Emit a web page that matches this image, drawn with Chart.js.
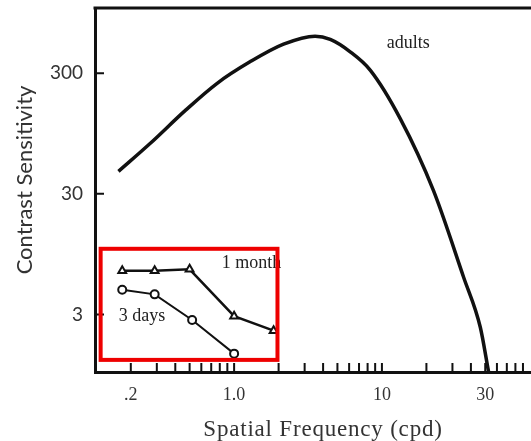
<!DOCTYPE html>
<html>
<head>
<meta charset="utf-8">
<script src="https://cdn.jsdelivr.net/npm/chart.js@4/dist/chart.umd.min.js"></script>
<style>
  body { margin: 0; background: #fff; }
  #wrap { width: 531px; height: 441px; }
</style>
</head>
<body>
<div id="wrap"><canvas id="csf" width="531" height="441"></canvas></div>
<script>
// values (log-log)
const adultFreq = [0.165, 0.27, 0.47, 0.764, 1.28, 2.16, 3.53, 4.47, 6.1, 8.33, 13.3, 22.3, 35.7, 46.3, 52.7];
const adultCS   = [46, 78.3, 148, 246, 372, 522, 608, 571, 451, 318, 126, 32, 6.1, 2.35, 1.0];

const monthFreq = [0.175, 0.29, 0.5, 1.0, 1.85];
const monthCS   = [6.9, 6.9, 7.1, 2.9, 2.2];

const daysFreq  = [0.175, 0.29, 0.52, 1.0];
const daysCS    = [4.8, 4.4, 2.7, 1.42];

const xTicks = [0.2, 0.3, 0.4, 0.5, 0.6, 0.7, 0.8, 0.9, 1, 2, 3, 4, 5, 6, 7, 8, 9, 10, 20, 30, 40, 50, 60, 70, 80, 90];
const xTickLabels = { 0.2: '.2', 1: '1.0', 10: '10', 50: '30' };  // the figure prints "30" under this tick
const yTicks = [3, 30, 300];

const xTitle = 'Spatial Frequency (cpd)';
const yTitle = 'Contrast Sensitivity';

// in-plot notes: [text, freq, cs]
const notes = [['adults', 10.8, 532], ['1 month', 0.826, 7.9], ['3 days', 0.166, 2.88]];
// red highlight box, in data units: x from..to, cs from..to
const boxFreq = [0.125, 1.965];
const boxCS = [1.26, 10.5];

const toPts = (xs, ys) => xs.map((v, i) => ({ x: v, y: ys[i] }));

const extras = {
    id: 'extras',
    afterDatasetsDraw(chart) {
        const { ctx, chartArea: a, scales: { x, y } } = chart;
        ctx.save();
        ctx.strokeStyle = '#111';
        ctx.lineWidth = 3;
        ctx.beginPath();
        ctx.moveTo(a.left - 1.5, a.top);
        ctx.lineTo(a.right, a.top);
        ctx.stroke();

        // tick marks point inward
        ctx.lineWidth = 2;
        ctx.beginPath();
        x.ticks.forEach(t => {
            const px = x.getPixelForValue(t.value);
            ctx.moveTo(px, a.bottom);
            ctx.lineTo(px, a.bottom - 9);
        });
        y.ticks.forEach(t => {
            const py = y.getPixelForValue(t.value);
            ctx.moveTo(a.left, py);
            ctx.lineTo(a.left + 9, py);
        });
        ctx.stroke();

        ctx.fillStyle = '#222';
        ctx.font = '18px "Liberation Serif"';
        ctx.textBaseline = 'middle';
        notes.forEach(([txt, fx, fy]) => {
            ctx.fillText(txt, x.getPixelForValue(fx), y.getPixelForValue(fy));
        });

        const x0 = x.getPixelForValue(boxFreq[0]), x1 = x.getPixelForValue(boxFreq[1]);
        const y0 = y.getPixelForValue(boxCS[1]), y1 = y.getPixelForValue(boxCS[0]);
        ctx.strokeStyle = '#ee0000';
        ctx.lineWidth = 4;
        ctx.strokeRect(x0, y0, x1 - x0, y1 - y0);

        // axis titles
        ctx.fillStyle = '#333';
        ctx.textAlign = 'center';
        ctx.font = '23px "Liberation Serif"';
        ctx.letterSpacing = '0.8px';
        ctx.fillText(xTitle, 323, 430);
        ctx.letterSpacing = '0px';
        ctx.translate(25, 180);
        ctx.rotate(-Math.PI / 2);
        ctx.font = '22px Lato';
        ctx.fillText(yTitle, 0, 0);
        ctx.restore();
    }
};

new Chart(document.getElementById('csf'), {
    type: 'scatter',
    data: {
        datasets: [
            {
                label: 'adults',
                data: toPts(adultFreq, adultCS),
                showLine: true,
                borderColor: '#111',
                borderWidth: 3.5,
                pointRadius: 0,
                cubicInterpolationMode: 'monotone',
            },
            {
                label: '1 month',
                data: toPts(monthFreq, monthCS),
                showLine: true,
                borderColor: '#111',
                borderWidth: 2.5,
                pointStyle: 'triangle',
                pointRadius: 4.5,
                pointBorderWidth: 2,
                pointBackgroundColor: '#fff',
                pointBorderColor: '#111',
            },
            {
                label: '3 days',
                data: toPts(daysFreq, daysCS),
                showLine: true,
                borderColor: '#111',
                borderWidth: 2,
                pointStyle: 'circle',
                pointRadius: 4,
                pointBorderWidth: 2,
                pointBackgroundColor: '#fff',
                pointBorderColor: '#111',
            }
        ]
    },
    options: {
        responsive: false,
        animation: false,
        layout: { autoPadding: false, padding: { top: 8, right: 0, left: 0, bottom: 0 } },
        plugins: { legend: { display: false }, tooltip: { enabled: false } },
        scales: {
            x: {
                type: 'logarithmic',
                min: 0.1145,
                max: 102,
                afterBuildTicks: s => { s.ticks = xTicks.map(v => ({ value: v })); },
                afterFit: s => { s.height = 69; s.paddingLeft = 0; s.paddingRight = 0; },
                grid: { display: false, drawTicks: false },
                border: { display: true, color: '#111', width: 3 },
                ticks: {
                    autoSkip: false,
                    maxRotation: 0,
                    padding: 12,
                    color: '#333',
                    font: { family: 'Liberation Serif', size: 18 },
                    callback: v => xTickLabels[v] || ''
                }
            },
            y: {
                type: 'logarithmic',
                min: 1,
                max: 1040,
                afterBuildTicks: s => { s.ticks = yTicks.map(v => ({ value: v })); },
                afterFit: s => { s.width = 95; s.paddingTop = 0; s.paddingBottom = 0; },
                grid: { display: false, drawTicks: false },
                border: { display: true, color: '#111', width: 3 },
                ticks: {
                    autoSkip: false,
                    padding: 12,
                    color: '#333',
                    font: { family: 'Lato', size: 19 },
                    callback: v => String(v)
                }
            }
        }
    },
    plugins: [extras]
});
</script>
</body>
</html>
